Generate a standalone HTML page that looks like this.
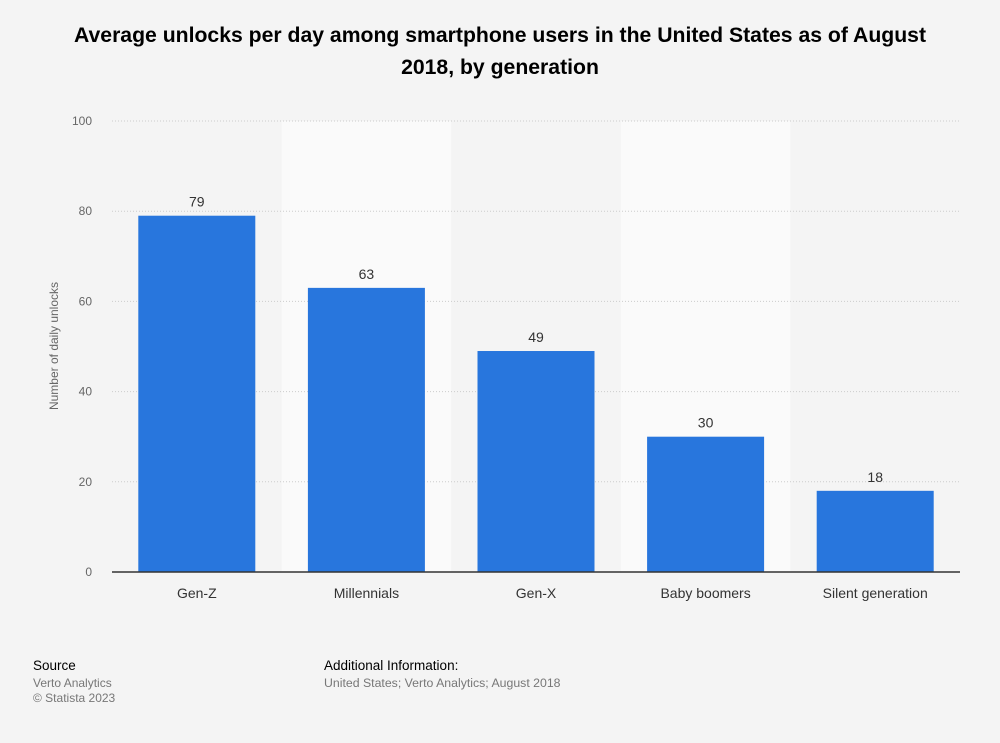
<!DOCTYPE html>
<html><head><meta charset="utf-8"><style>
body{margin:0;background:#f4f4f4;font-family:"Liberation Sans",sans-serif;}
svg{display:block}
</style></head><body>
<svg id="c" width="1000" height="743">
<rect width="1000" height="743" fill="#f4f4f4"/>
<text x="500" y="42" text-anchor="middle" font-size="21.2" font-weight="bold" fill="#000">Average unlocks per day among smartphone users in the United States as of August</text>
<text x="500" y="74" text-anchor="middle" font-size="21.2" font-weight="bold" fill="#000">2018, by generation</text>
<g id="plot"></g>
<text transform="translate(58,346) rotate(-90)" text-anchor="middle" font-size="12" fill="#666">Number of daily unlocks</text>
<text x="33" y="670" font-size="13.5" fill="#000">Source</text>
<text x="33" y="687" font-size="12" fill="#777">Verto Analytics</text>
<text x="33" y="702" font-size="12" fill="#777">© Statista 2023</text>
<text x="324" y="670" font-size="13.5" fill="#000">Additional Information:</text>
<text x="324" y="687" font-size="12.3" fill="#777">United States; Verto Analytics; August 2018</text>
</svg>
<script>
const categories=["Gen-Z","Millennials","Gen-X","Baby boomers","Silent generation"];
const values=[79,63,49,30,18];
const ticks=[0,20,40,60,80,100];
const NS="http://www.w3.org/2000/svg";
const g=document.getElementById("plot");
const x0=112,x1=960,y0=572,y1=121,ymax=100;
const bw=(x1-x0)/categories.length;
const ys=v=>y0-(v/ymax)*(y0-y1);
const xs=i=>x0+i*bw;
function mk(t,a){const e=document.createElementNS(NS,t);for(const k in a)e.setAttribute(k,a[k]);g.appendChild(e);return e;}
categories.forEach((c,i)=>{if(i%2==1){const r=mk("rect",{x:xs(i),y:y1,width:bw,height:y0-y1,fill:"#fafafa"});

}});
ticks.forEach(t=>{
 if(t>0){const l=mk("line",{x1:x0,x2:x1,y1:ys(t),y2:ys(t),stroke:"#ccc","stroke-dasharray":"1,2"});
 
 }
 const tx=mk("text",{x:92,y:ys(t)+4,"text-anchor":"end","font-size":12,fill:"#666"});tx.textContent=t;
 
 
});
categories.forEach((c,i)=>{
 const cx=xs(i)+bw/2,w=117;
 const r=mk("rect",{x:cx-w/2,y:ys(values[i]),width:w,height:y0-ys(values[i]),fill:"#2876dd"});
 
 
 const v=mk("text",{x:cx,y:ys(values[i])-9,"text-anchor":"middle","font-size":14,fill:"#333"});v.textContent=values[i];
 
 
 const l=mk("text",{x:cx,y:598,"text-anchor":"middle","font-size":14,fill:"#333"});l.textContent=c;
 
 
});
const ax=mk("line",{x1:x0,x2:x1,y1:y0,y2:y0,stroke:"#333","stroke-width":1.5});


</script>
</body></html>
